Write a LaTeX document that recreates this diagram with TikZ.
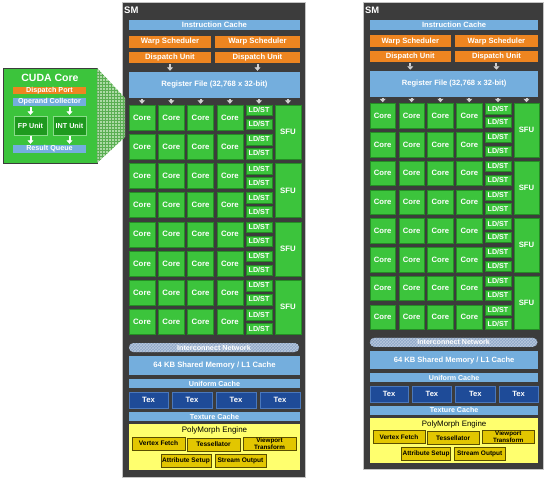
\documentclass[tikz,border=0pt]{standalone}
\usepackage{fontspec}
\setmainfont{Liberation Sans}
\usetikzlibrary{arrows.meta,patterns,calc}
\definecolor{smbgc}{HTML}{3C3C3C}
\definecolor{smedge}{HTML}{C4C4C4}
\definecolor{cblue}{HTML}{74AEDD}
\definecolor{corange}{HTML}{EE8520}
\definecolor{cgreen}{HTML}{3CC43C}
\definecolor{cgreend}{HTML}{248C24}
\definecolor{ctex}{HTML}{1E4B98}
\definecolor{ctexedge}{HTML}{4A78BC}
\definecolor{cyel}{HTML}{FFFF6E}
\definecolor{cgold}{HTML}{E2C600}
\definecolor{cgoldedge}{HTML}{5A4E00}
\definecolor{arrg}{HTML}{D0D0D0}
\definecolor{cnet}{HTML}{8EA6C6}
\definecolor{cnetp}{HTML}{B8C8DE}
\definecolor{cfp}{HTML}{1E9A1E}
\definecolor{trapc}{HTML}{9ED496}
\definecolor{trapg}{HTML}{5AAE52}
\newcommand\bx[7]{\node[#6, minimum width={(#4)-(#2)}, minimum height={(#5)-(#3)}] (#1) at ({((#2)+(#4))/2},{((#3)+(#5))/2}) {#7};}
\newcommand\smdraw[1]{%
  \bx{#1-bg}{0}{0}{183}{475}{smbg}{}
  \node[smlabel, anchor=west] (#1-lbl) at (2,8) {SM};
  \bx{#1-ic}{7}{18}{178}{28}{bluebox}{Instruction Cache}
  \bx{#1-ws1}{7}{34}{89}{46}{orangebox}{Warp Scheduler}
  \bx{#1-ws2}{93}{34}{178}{46}{orangebox}{Warp Scheduler}
  \bx{#1-du1}{7}{50}{89}{61}{orangebox}{Dispatch Unit}
  \bx{#1-du2}{93}{50}{178}{61}{orangebox}{Dispatch Unit}
  \bx{#1-rf}{7}{70}{178}{96}{bluebox}{Register File (32,768 x 32-bit)}
  \draw[arr] (#1-du1.south) -- (#1-du1.south |- #1-rf.north);
  \draw[arr] (#1-du2.south) -- (#1-du2.south |- #1-rf.north);
  \foreach \r in {0,...,7}{%
    \foreach \c in {0,...,3}{%
      \bx{#1-c\r-\c}{7+29.3*\c}{103+29.2*\r}{33+29.3*\c}{128+29.2*\r}{corebox}{Core}
    }
    \bx{#1-ls\r a}{124}{103+29.2*\r}{150}{113.5+29.2*\r}{lsbox}{LD/ST}
    \bx{#1-ls\r b}{124}{117+29.2*\r}{150}{127.5+29.2*\r}{lsbox}{LD/ST}
  }
  \foreach \k in {0,...,3}{%
    \bx{#1-sfu\k}{153}{103+58.4*\k}{179}{157.2+58.4*\k}{corebox}{SFU}
  }
  \foreach \c in {0,...,3}{\draw[arr] (#1-rf.south -| #1-c0-\c.north) -- (#1-c0-\c.north);}
  \draw[arr] (#1-rf.south -| #1-ls0a.north) -- (#1-ls0a.north);
  \draw[arr] (#1-rf.south -| #1-sfu0.north) -- (#1-sfu0.north);
  \bx{#1-net}{7}{341}{177}{350}{netbox}{Interconnect Network}
  \bx{#1-shm}{7}{354}{178}{373}{bluebox}{64 KB Shared Memory / L1 Cache}
  \bx{#1-uc}{7}{377}{178}{386}{bluebox,font=\bfseries\fontsize{7.2}{7}\selectfont}{Uniform Cache}
  \bx{#1-tex1}{7}{390}{46}{406}{texbox}{Tex}
  \bx{#1-tex2}{50}{390}{90}{406}{texbox}{Tex}
  \bx{#1-tex3}{94}{390}{134}{406}{texbox}{Tex}
  \bx{#1-tex4}{138}{390}{178}{406}{texbox}{Tex}
  \bx{#1-tc}{7}{410}{178}{419}{bluebox,font=\bfseries\fontsize{7.2}{7}\selectfont}{Texture Cache}
  \bx{#1-pm}{7}{422}{178}{468}{pmbox}{}
  \node[font=\fontsize{8}{8}\selectfont, text=black] (#1-pmt) at (92.5,428.5) {PolyMorph Engine};
  \bx{#1-vf}{10}{435}{63}{448}{goldbox}{Vertex Fetch}
  \bx{#1-ts}{65}{436}{118}{449}{goldbox}{Tessellator}
  \bx{#1-vt}{121}{435}{174}{448}{goldbox,align=center,font=\bfseries\fontsize{6.3}{5.6}\selectfont}{Viewport\\Transform}
  \bx{#1-as}{39}{452}{89}{465}{goldbox}{Attribute Setup}
  \bx{#1-so}{93}{452}{144}{465}{goldbox}{Stream Output}
}
\begin{document}
\begin{tikzpicture}[x=1pt,y=-1pt,
  box/.style={draw=none, inner sep=0pt, outer sep=0pt, text=white, font=\bfseries\fontsize{7.7}{8}\selectfont},
  smbg/.style={box, fill=smbgc, draw=smedge, line width=0.9pt},
  smlabel/.style={text=white, inner sep=0pt, font=\bfseries\fontsize{9.5}{10}\selectfont},
  bluebox/.style={box, fill=cblue},
  orangebox/.style={box, fill=corange},
  corebox/.style={box, fill=cgreen, draw=cgreend, line width=0.4pt, font=\bfseries\fontsize{7.8}{8}\selectfont},
  lsbox/.style={corebox, font=\bfseries\fontsize{7.2}{7}\selectfont},
  texbox/.style={box, fill=ctex, draw=ctexedge, line width=0.5pt},
  netbox/.style={box, rounded corners=4.4pt, fill=cnet, preaction={fill=cnet}, pattern=crosshatch, pattern color=cnetp, font=\bfseries\fontsize{7.2}{7}\selectfont},
  pmbox/.style={box, fill=cyel},
  goldbox/.style={box, fill=cgold, draw=cgoldedge, line width=0.6pt, text=black, font=\bfseries\fontsize{6.6}{7}\selectfont},
  cudabox/.style={box, fill=cgreen, draw=smbgc, line width=0.9pt},
  cbar/.style={box, font=\bfseries\fontsize{7.2}{7}\selectfont},
  fpbox/.style={box, fill=cfp, draw=cgreen!60!white, line width=0.5pt, font=\bfseries\fontsize{7.2}{7}\selectfont},
  arr/.style={-{Triangle[width=6pt,length=3.5pt]}, line width=2pt, draw=arrg, shorten <=1.2pt, shorten >=1.2pt},
  warr/.style={arr, draw=white},
  ]
\useasboundingbox (0,0) rectangle (544,480);
\fill[white] (0,0) rectangle (544,480);
% left SM
\begin{scope}[shift={(122,2)}]
  \smdraw{L}
\end{scope}
% right SM
\begin{scope}[shift={(363,2)}, scale=0.985, transform shape]
  \smdraw{R}
\end{scope}
% CUDA core detail
\bx{cuda}{3}{68}{97}{163}{cudabox}{}
\node[text=white, font=\bfseries\fontsize{10.5}{10}\selectfont] (cudat) at (50,78) {CUDA Core};
\bx{dport}{13}{87}{86}{94}{cbar,fill=corange}{Dispatch Port}
\bx{opc}{13}{98}{86}{106}{cbar,fill=cblue}{Operand Collector}
\bx{fpu}{14}{116}{47}{135}{fpbox}{FP Unit}
\bx{intu}{53}{116}{86}{135}{fpbox}{INT Unit}
\bx{resq}{13}{145}{86}{153}{cbar,fill=cblue}{Result Queue}
\draw[warr] (opc.south -| fpu.north) -- (fpu.north);
\draw[warr] (opc.south -| intu.north) -- (intu.north);
\draw[warr] (fpu.south) -- (fpu.south |- resq.north);
\draw[warr] (intu.south) -- (intu.south |- resq.north);
% magnification wedge
\coordinate (wt) at ($(L-c0-0.north west)+(-4,-7)$);
\coordinate (wb) at ($(L-c0-0.south west)+(-4,7)$);
\fill[trapc, opacity=0.85] (cuda.north east) -- (wt) -- (wb) -- (cuda.south east) -- cycle;
\fill[pattern=grid, pattern color=trapg] (cuda.north east) -- (wt) -- (wb) -- (cuda.south east) -- cycle;
\end{tikzpicture}
\end{document}
